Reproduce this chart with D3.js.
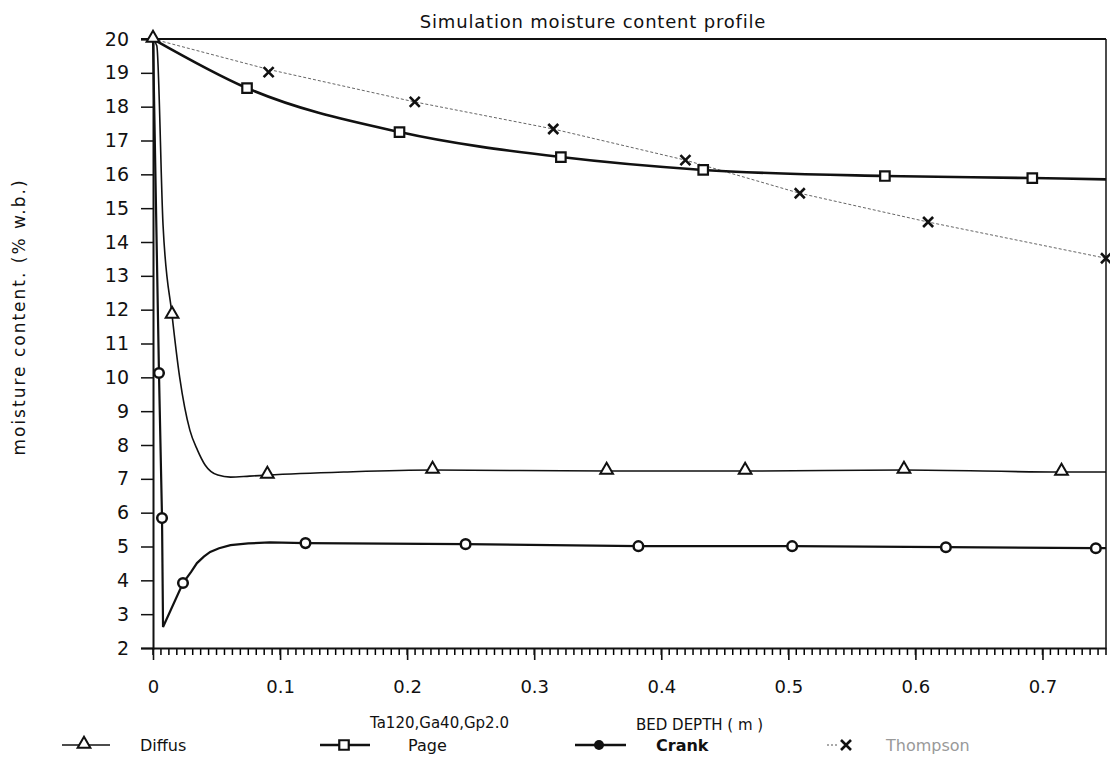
<!DOCTYPE html>
<html>
<head>
<meta charset="utf-8">
<script src="https://cdn.jsdelivr.net/npm/d3@7"></script>
<style>
  body { margin: 0; background: #fff; }
  svg text { font-family: "DejaVu Sans", sans-serif; fill: #111; }
</style>
</head>
<body>
<div id="chart"></div>
<script>
// values (depth in m, moisture % w.b.)
const yTicks = [2,3,4,5,6,7,8,9,10,11,12,13,14,15,16,17,18,19,20];
const xTicks = [0, 0.1, 0.2, 0.3, 0.4, 0.5, 0.6, 0.7];

const diffusDepth = [0, 0.003, 0.0079, 0.015, 0.021, 0.029, 0.035, 0.041, 0.051, 0.061, 0.076, 0.090, 0.15, 0.220, 0.357, 0.466, 0.591, 0.715, 0.75];
const diffusMC    = [20, 19.8, 14.5, 11.84, 10.0, 8.44, 7.85, 7.41, 7.11, 7.05, 7.08, 7.11, 7.2, 7.26, 7.23, 7.23, 7.26, 7.20, 7.2];
const diffusMarkDepth = [0, 0.015, 0.090, 0.220, 0.357, 0.466, 0.591, 0.715];
const diffusMarkMC    = [20, 11.84, 7.11, 7.26, 7.23, 7.23, 7.26, 7.20];

const pageDepth = [0, 0.074, 0.194, 0.321, 0.433, 0.576, 0.692, 0.75];
const pageMC    = [20, 18.55, 17.25, 16.51, 16.13, 15.95, 15.89, 15.85];
const pageMarkDepth = [0.074, 0.194, 0.321, 0.433, 0.576, 0.692];
const pageMarkMC    = [18.55, 17.25, 16.51, 16.13, 15.95, 15.89];

const crankDepth = [0, 0.0047, 0.0071, 0.0079, 0.0236, 0.030, 0.0346, 0.040, 0.045, 0.052, 0.061, 0.075, 0.092, 0.120, 0.246, 0.382, 0.503, 0.624, 0.742, 0.75];
const crankMC    = [20, 10.13, 5.84, 2.62, 3.92, 4.25, 4.51, 4.70, 4.84, 4.95, 5.04, 5.09, 5.12, 5.10, 5.07, 5.01, 5.01, 4.98, 4.95, 4.95];
const crankMarkDepth = [0.0047, 0.0071, 0.0236, 0.120, 0.246, 0.382, 0.503, 0.624, 0.742];
const crankMarkMC    = [10.13, 5.84, 3.92, 5.10, 5.07, 5.01, 5.01, 4.98, 4.95];

const thompsonDepth = [0, 0.091, 0.206, 0.315, 0.419, 0.509, 0.610, 0.75];
const thompsonMC    = [20, 19.1, 18.14, 17.34, 16.42, 15.44, 14.59, 13.52];
const thompsonMarkDepth = [0.091, 0.206, 0.315, 0.419, 0.509, 0.610, 0.75];
const thompsonMarkMC    = [19.02, 18.14, 17.34, 16.42, 15.44, 14.59, 13.52];

const W = 1110, H = 760;
const plotLeft = 153, plotRight = 1106, plotTop = 39, plotBottom = 648;

const svg = d3.select('#chart').append('svg')
  .attr('width', W).attr('height', H);

const x = d3.scaleLinear().domain([0, 0.75]).range([plotLeft, plotRight]);
const y = d3.scaleLinear().domain([2, 20]).range([plotBottom, plotTop]);

const zip = (xs, ys) => xs.map((d, i) => [d, ys[i]]);

// title
svg.append('text')
  .attr('x', 593).attr('y', 28)
  .attr('text-anchor', 'middle')
  .style('font-size', '18px')
  .style('letter-spacing', '0.8px')
  .text('Simulation moisture content profile');

// frame: top and right
svg.append('line')
  .attr('x1', plotLeft - 12).attr('x2', plotRight)
  .attr('y1', y(20)).attr('y2', y(20))
  .attr('stroke', '#111').attr('stroke-width', 2);
svg.append('line')
  .attr('x1', plotRight).attr('x2', plotRight)
  .attr('y1', plotTop).attr('y2', plotBottom)
  .attr('stroke', '#111').attr('stroke-width', 1.5);

// y axis
const yAxis = svg.append('g')
  .attr('transform', 'translate(' + plotLeft + ',0)')
  .call(d3.axisLeft(y).tickValues(yTicks).tickSize(12).tickPadding(12).tickFormat(d3.format('d')));
yAxis.select('.domain').attr('stroke', '#111').attr('stroke-width', 2);
yAxis.selectAll('.tick line').attr('stroke', '#111').attr('stroke-width', 1.5);
yAxis.selectAll('text').style('font-size', '19px').attr('fill', '#111');

// x axis minor ticks
const minor = d3.range(0, 0.7501, 0.00625);
svg.append('g').selectAll('line')
  .data(minor).join('line')
  .attr('x1', d => x(d)).attr('x2', d => x(d))
  .attr('y1', plotBottom).attr('y2', plotBottom + 7)
  .attr('stroke', '#000').attr('stroke-width', 1.5);

// x axis major
const xAxis = svg.append('g')
  .attr('transform', 'translate(0,' + plotBottom + ')')
  .call(d3.axisBottom(x).tickValues(xTicks).tickSize(12).tickPadding(20).tickSizeOuter(0)
    .tickFormat(d => d === 0 ? '0' : d3.format('.1f')(d)));
xAxis.select('.domain').attr('stroke', '#111').attr('stroke-width', 2);
xAxis.selectAll('.tick line').attr('stroke', '#111').attr('stroke-width', 1.6);
xAxis.selectAll('text').style('font-size', '18px').attr('fill', '#111');

// axis titles
svg.append('text')
  .attr('transform', 'translate(25,317) rotate(-90)')
  .attr('text-anchor', 'middle')
  .style('font-size', '17px')
  .style('letter-spacing', '2px')
  .text('moisture content. (% w.b.)');

svg.append('text')
  .attr('x', 370).attr('y', 728)
  .style('font-size', '15px')
  .text('Ta120,Ga40,Gp2.0');
svg.append('text')
  .attr('x', 636).attr('y', 730)
  .style('font-size', '15px')
  .text('BED DEPTH ( m )');

// curves
const smooth = d3.line().x(d => x(d[0])).y(d => y(d[1])).curve(d3.curveMonotoneX);
const straight = d3.line().x(d => x(d[0])).y(d => y(d[1]));

svg.append('path').datum(zip(thompsonDepth, thompsonMC))
  .attr('d', straight).attr('fill', 'none')
  .attr('stroke', '#666').attr('stroke-width', 1).attr('stroke-dasharray', '3,2');

svg.append('path').datum(zip(pageDepth, pageMC))
  .attr('d', smooth).attr('fill', 'none')
  .attr('stroke', '#111').attr('stroke-width', 2.6);

svg.append('path').datum(zip(diffusDepth, diffusMC))
  .attr('d', smooth).attr('fill', 'none')
  .attr('stroke', '#111').attr('stroke-width', 1.6);

svg.append('path').datum(zip(crankDepth, crankMC))
  .attr('d', straight).attr('fill', 'none')
  .attr('stroke', '#111').attr('stroke-width', 2.2);

// markers
const tri = d3.symbol().type(d3.symbolTriangle).size(70);
const sq = d3.symbol().type(d3.symbolSquare).size(90);

function drawX(g, cx, cy, r) {
  g.append('path')
    .attr('d', 'M' + (cx - r) + ',' + (cy - r) + 'L' + (cx + r) + ',' + (cy + r) +
               'M' + (cx + r) + ',' + (cy - r) + 'L' + (cx - r) + ',' + (cy + r))
    .attr('stroke', '#111').attr('stroke-width', 2.6).attr('fill', 'none');
}

svg.append('g').selectAll('path')
  .data(zip(diffusMarkDepth, diffusMarkMC)).join('path')
  .attr('d', tri)
  .attr('transform', d => 'translate(' + x(d[0]) + ',' + (y(d[1]) - 1) + ')')
  .attr('fill', '#fff').attr('stroke', '#111').attr('stroke-width', 2);

svg.append('g').selectAll('path')
  .data(zip(pageMarkDepth, pageMarkMC)).join('path')
  .attr('d', sq)
  .attr('transform', d => 'translate(' + x(d[0]) + ',' + y(d[1]) + ')')
  .attr('fill', '#fff').attr('stroke', '#111').attr('stroke-width', 2.2);

svg.append('g').selectAll('circle')
  .data(zip(crankMarkDepth, crankMarkMC)).join('circle')
  .attr('cx', d => x(d[0])).attr('cy', d => y(d[1])).attr('r', 4.8)
  .attr('fill', '#fff').attr('stroke', '#111').attr('stroke-width', 2.5);

const xg = svg.append('g');
zip(thompsonMarkDepth, thompsonMarkMC).forEach(d => drawX(xg, x(d[0]), y(d[1]), 5));

// legend
const legY = 745;
const leg = svg.append('g');
leg.append('line').attr('x1', 62).attr('x2', 110).attr('y1', legY).attr('y2', legY)
  .attr('stroke', '#111').attr('stroke-width', 1.6);
leg.append('path').attr('d', tri).attr('transform', 'translate(84,' + (legY - 1) + ')')
  .attr('fill', '#fff').attr('stroke', '#111').attr('stroke-width', 2);
leg.append('text').attr('x', 140).attr('y', legY + 6).style('font-size', '16px').text('Diffus');

leg.append('line').attr('x1', 320).attr('x2', 370).attr('y1', legY).attr('y2', legY)
  .attr('stroke', '#111').attr('stroke-width', 2.4);
leg.append('path').attr('d', sq).attr('transform', 'translate(344,' + legY + ')')
  .attr('fill', '#fff').attr('stroke', '#111').attr('stroke-width', 2.2);
leg.append('text').attr('x', 408).attr('y', legY + 6).style('font-size', '16px').text('Page');

leg.append('line').attr('x1', 575).attr('x2', 626).attr('y1', legY).attr('y2', legY)
  .attr('stroke', '#111').attr('stroke-width', 2.4);
leg.append('circle').attr('cx', 599).attr('cy', legY).attr('r', 5).attr('fill', '#111');
leg.append('text').attr('x', 656).attr('y', legY + 6).style('font-size', '16px')
  .style('font-weight', 'bold').text('Crank');

leg.append('line').attr('x1', 827).attr('x2', 837).attr('y1', legY).attr('y2', legY)
  .attr('stroke', '#555').attr('stroke-width', 1).attr('stroke-dasharray', '2,2');
drawX(leg, 846, legY, 5);
leg.append('text').attr('x', 886).attr('y', legY + 6).style('font-size', '16px')
  .style('fill', '#999').text('Thompson');
</script>
</body>
</html>
